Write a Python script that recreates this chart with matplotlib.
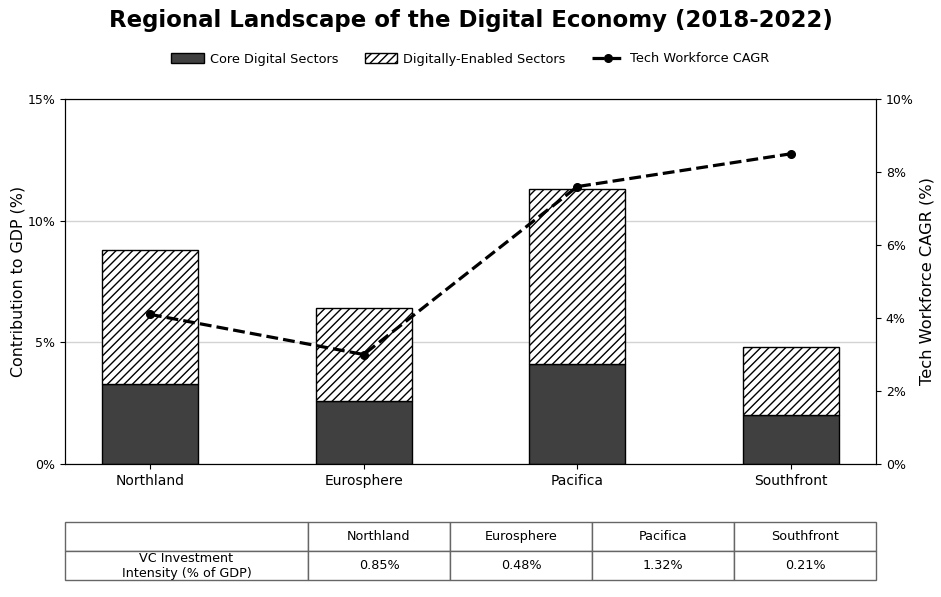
import numpy as np
import matplotlib.pyplot as plt
from matplotlib.ticker import FuncFormatter

regions = ['Northland', 'Eurosphere', 'Pacifica', 'Southfront']
core = [3.3, 2.6, 4.1, 2.0]
enabled = [5.5, 3.8, 7.2, 2.8]
cagr = [4.1, 3.0, 7.6, 8.5]
vc = ['0.85%', '0.48%', '1.32%', '0.21%']

fig = plt.figure(figsize=(9.41, 5.97), dpi=100)
ax = fig.add_axes([65/941, 1-464/597, 811/941, 365/597])
x = np.arange(len(regions))
w = 0.45

ax.bar(x, core, w, color='#404040', edgecolor='black', linewidth=1, label='Core Digital Sectors', zorder=2)
ax.bar(x, enabled, w, bottom=core, color='white', edgecolor='black', hatch='////', linewidth=1,
       label='Digitally-Enabled Sectors', zorder=2)
ax.set_ylim(0, 15)
ax.set_yticks([0, 5, 10, 15])
ax.yaxis.set_major_formatter(FuncFormatter(lambda v, p: f'{v:.0f}%'))
ax.grid(axis='y', color='#d3d3d3', linewidth=1, zorder=0)
ax.set_axisbelow(True)
ax.set_ylabel('Contribution to GDP (%)', fontsize=11.4, labelpad=1.5)
ax.set_xticks(x)
ax.set_xticklabels(regions, fontsize=10)
ax.tick_params(axis='y', labelsize=9)

ax2 = ax.twinx()
ax2.plot(x, cagr, 'k--', marker='o', linewidth=2.3, markersize=5.5, label='Tech Workforce CAGR')
ax2.set_ylim(0, 10)
ax2.set_yticks([0, 2, 4, 6, 8, 10])
ax2.yaxis.set_major_formatter(FuncFormatter(lambda v, p: f'{v:.0f}%'))
ax2.tick_params(axis='y', labelsize=9)
ax2.set_ylabel('Tech Workforce CAGR (%)', fontsize=11.7, labelpad=4.5)

h1, l1 = ax.get_legend_handles_labels()
h2, l2 = ax2.get_legend_handles_labels()
fig.legend(h1 + h2, l1 + l2, loc='center', bbox_to_anchor=(0.5, 1-59/597), ncol=3,
           frameon=False, fontsize=9.3, handlelength=2.5, handletextpad=0.5)

fig.suptitle('Regional Landscape of the Digital Economy (2018-2022)', fontsize=16.5,
             fontweight='bold', y=1-21/597, va='center')

cells = [['', *regions], ['VC Investment\nIntensity (% of GDP)', *vc]]
tab = ax.table(cellText=cells, cellLoc='center',
               colWidths=[243/811] + [142/811]*4,
               bbox=[0, (464-580)/365, 1, 58/365])
tab.auto_set_font_size(False)
tab.set_fontsize(9.2)
for c in tab.get_celld().values():
    c.set_edgecolor('#666666')

fig.savefig('out.png', dpi=100)
